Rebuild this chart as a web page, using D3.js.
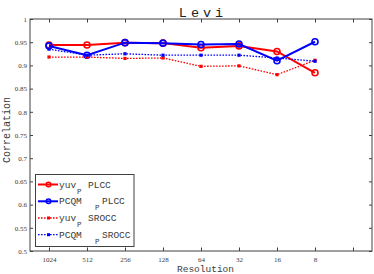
<!DOCTYPE html>
<html><head><meta charset="utf-8">
<script src="https://cdn.jsdelivr.net/npm/d3@7/dist/d3.min.js"></script>
<style>body{margin:0;background:#fff;}svg{display:block;}</style>
</head><body>
<script>
const categories = ["1024","512","256","128","64","32","16","8"];
const yuvPLCC   = [0.944,0.944,0.949,0.948,0.938,0.942,0.930,0.884];
const pcqmPLCC  = [0.942,0.922,0.949,0.948,0.945,0.946,0.910,0.951];
const yuvSROCC  = [0.918,0.918,0.915,0.916,0.898,0.899,0.880,0.911];
const pcqmSROCC = [0.935,0.922,0.925,0.922,0.922,0.922,0.916,0.909];
const yTicks = [0.5,0.55,0.6,0.65,0.7,0.75,0.8,0.85,0.9,0.95,1];
const xTickPositions = [1,2,3,4,5,6,7,8,9];

const series = [
  {name:"yuv", sub:"P", rest:"PLCC", values:yuvPLCC, color:"#ff0000", dash:null, marker:"circle", subDx:18, restDx:29},
  {name:"PCQM", sub:"P", rest:"PLCC", values:pcqmPLCC, color:"#0000ff", dash:null, marker:"circle", subDx:36, restDx:43},
  {name:"yuv", sub:"P", rest:"SROCC", values:yuvSROCC, color:"#ff0000", dash:"1.6,1.4", marker:"square", subDx:18, restDx:29},
  {name:"PCQM", sub:"P", rest:"SROCC", values:pcqmSROCC, color:"#0000ff", dash:"1.6,1.4", marker:"square", subDx:36, restDx:43}
];

const W=374,H=274;
const L=30,R=372,T=19,B=251;
const svg=d3.select("body").append("svg").attr("width",W).attr("height",H);

const x=d3.scaleLinear().domain([0.5,9.5]).range([L,R]);
const y=d3.scaleLinear().domain([0.5,1]).range([B,T]);
const axisColor="#404040";
const textColor="#3a3a3a";
const tickFont="'Liberation Serif', 'Times New Roman', serif";
const mono="'Liberation Mono', 'Courier New', monospace";

// box
svg.append("rect").attr("x",L).attr("y",T).attr("width",R-L).attr("height",B-T)
  .attr("fill","none").attr("stroke",axisColor).attr("stroke-width",1);

// axes
const xAxis=d3.axisBottom(x).tickValues(xTickPositions).tickSizeInner(-3.5).tickSizeOuter(0)
  .tickFormat(d=>categories[d-1]||"");
const gx=svg.append("g").attr("transform",`translate(0,${B})`).call(xAxis);
gx.select(".domain").remove();
gx.selectAll("line").attr("stroke",axisColor);
gx.selectAll("text").attr("font-family",tickFont).attr("font-size",7).attr("fill",textColor).attr("dy",0).attr("y",11);

const gxt=svg.append("g").attr("transform",`translate(0,${T})`).call(d3.axisTop(x).tickValues(xTickPositions).tickSizeInner(-3.5).tickSizeOuter(0).tickFormat(""));
gxt.select(".domain").remove();
gxt.selectAll("line").attr("stroke",axisColor);

const yAxis=d3.axisLeft(y).tickValues(yTicks).tickSizeInner(-3).tickSizeOuter(0).tickFormat(d=>String(d));
const gy=svg.append("g").attr("transform",`translate(${L},0)`).call(yAxis);
gy.select(".domain").remove();
gy.selectAll("line").attr("stroke",axisColor);
gy.selectAll("text").attr("font-family",tickFont).attr("font-size",7).attr("fill",textColor).attr("x",-3);

const gyr=svg.append("g").attr("transform",`translate(${R},0)`).call(d3.axisRight(y).tickValues(yTicks).tickSizeInner(-3).tickSizeOuter(0).tickFormat(""));
gyr.select(".domain").remove();
gyr.selectAll("line").attr("stroke",axisColor);

// title & labels
svg.append("text").attr("x",(L+R)/2+2).attr("y",16.5).attr("text-anchor","middle")
  .attr("font-family",mono).attr("font-size",13.5).attr("letter-spacing",4).attr("fill","#222").text("Levi");
svg.append("text").attr("x",205.5).attr("y",271.5).attr("text-anchor","middle")
  .attr("font-family",mono).attr("font-size",9.5).attr("fill",textColor).text("Resolution");
svg.append("text").attr("transform",`translate(10,130) rotate(-90)`).attr("text-anchor","middle")
  .attr("font-family",mono).attr("font-size",10).attr("fill",textColor).text("Correlation");

// lines
const line=d3.line().x((d,i)=>x(i+1)).y(d=>y(d));
series.forEach(s=>{
  const g=svg.append("g");
  g.append("path").datum(s.values).attr("d",line).attr("fill","none")
    .attr("stroke",s.color).attr("stroke-width",s.dash?1.3:2)
    .attr("stroke-dasharray",s.dash);
  if(s.marker==="circle"){
    g.selectAll("circle").data(s.values).join("circle")
      .attr("cx",(d,i)=>x(i+1)).attr("cy",d=>y(d)).attr("r",3)
      .attr("fill","none").attr("stroke",s.color).attr("stroke-width",1.6);
  } else {
    g.selectAll("rect").data(s.values).join("rect")
      .attr("x",(d,i)=>x(i+1)-1.6).attr("y",d=>y(d)-1.6).attr("width",3.2).attr("height",3.2)
      .attr("fill",s.color);
  }
});

// legend
const lg=svg.append("g");
lg.append("rect").attr("x",35.5).attr("y",174.5).attr("width",98.5).attr("height",72)
  .attr("fill","#fff").attr("stroke",axisColor).attr("stroke-width",1);
const rowY=[184.5,201.3,218,234.7];
series.forEach((s,i)=>{
  const yy=rowY[i];
  lg.append("line").attr("x1",38).attr("x2",58).attr("y1",yy).attr("y2",yy)
    .attr("stroke",s.color).attr("stroke-width",s.dash?1.3:2).attr("stroke-dasharray",s.dash);
  if(s.marker==="circle"){
    lg.append("circle").attr("cx",48.5).attr("cy",yy).attr("r",2.3).attr("fill","none")
      .attr("stroke",s.color).attr("stroke-width",1.5);
  } else {
    lg.append("rect").attr("x",47).attr("y",yy-1.5).attr("width",3).attr("height",3).attr("fill",s.color);
  }
  const tx=59;
  lg.append("text").attr("x",tx).attr("y",yy+3).attr("font-family",mono).attr("font-size",9.5).attr("fill",textColor).text(s.name);
  lg.append("text").attr("x",tx+s.subDx).attr("y",yy+9).attr("font-family",mono).attr("font-size",7.5).attr("fill",textColor).text(s.sub);
  lg.append("text").attr("x",tx+s.restDx).attr("y",yy+3).attr("font-family",mono).attr("font-size",9.5).attr("fill",textColor).text(s.rest);
});
</script>
</body></html>
